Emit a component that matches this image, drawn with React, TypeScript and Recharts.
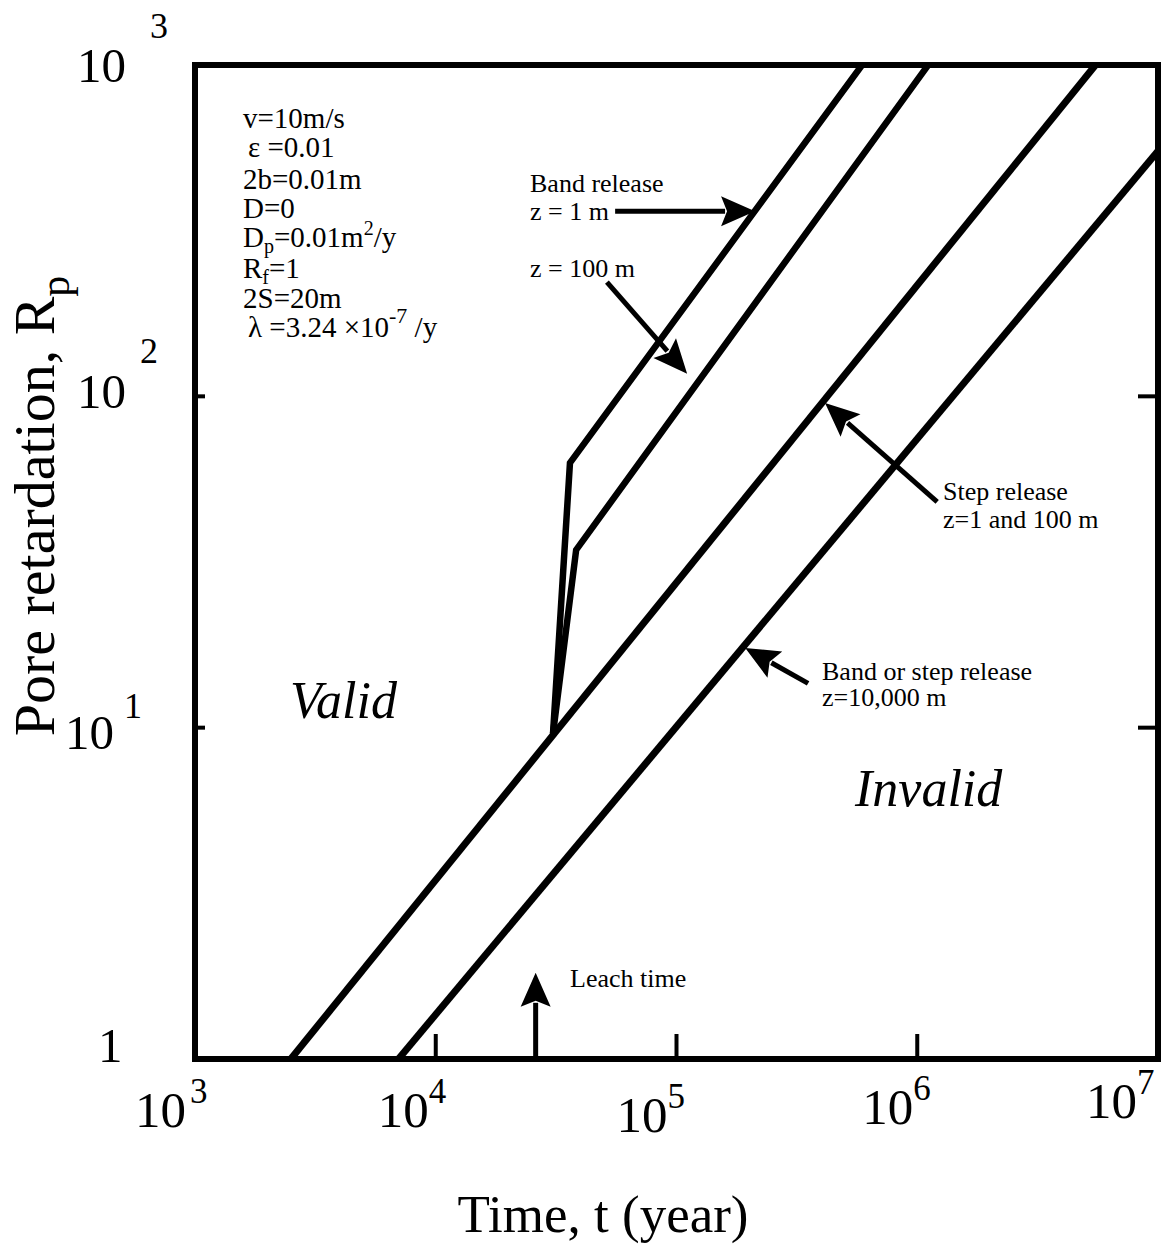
import React from "react";
import {
  LineChart,
  Line,
  XAxis,
  YAxis,
  ReferenceLine,
  ReferenceArea,
  Customized,
} from "recharts";

// 시간(년) - 공극 지연계수 경계선
const stepRelease = [
  { t: 2500, R: 1 },
  { t: 5.5e6, R: 1000 },
];
const farRelease = [
  { t: 7000, R: 1 },
  { t: 1e7, R: 550 },
];
const bandNear = [
  { t: 30700, R: 9.6 },
  { t: 36100, R: 63 },
  { t: 590000, R: 1000 },
];
const bandMid = [
  { t: 30700, R: 9.6 },
  { t: 38300, R: 34.4 },
  { t: 1.11e6, R: 1000 },
];

const xTicks = [1e3, 1e4, 1e5, 1e6, 1e7];
const yTicks = [1, 10, 100, 1000];
const innerXTicks = [1e4, 1e5, 1e6];
const innerYTicks = [10, 100];

// annotation arrows (tail -> head), in data units
const arrows = [
  { from: { t: 55600, R: 362 }, to: { t: 212000, R: 362 } },
  { from: { t: 51400, R: 221 }, to: { t: 110700, R: 117 } },
  { from: { t: 1.21e6, R: 48 }, to: { t: 414000, R: 95.5 } },
  { from: { t: 352000, R: 13.6 }, to: { t: 193000, R: 17.4 } },
  { from: { t: 26000, R: 1 }, to: { t: 26000, R: 1.82 } },
];

const FONT = "'Liberation Serif', 'DejaVu Serif', serif";

// label layout per tick (offsets only)
const xLabelPos: Record<number, { dx: number; dy: number; gap: number }> = {
  1000: { dx: -60, dy: 68, gap: 4 },
  10000: { dx: -58, dy: 68, gap: 0 },
  100000: { dx: -60, dy: 73, gap: 0 },
  1000000: { dx: -55, dy: 65, gap: 0 },
  10000000: { dx: -72, dy: 59, gap: 0 },
};
const yLabelPos: Record<number, { dx: number; dy: number; gap: number; sup: number }> = {
  1000: { dx: -118, dy: 17, gap: 24, sup: -44 },
  100: { dx: -118, dy: 12, gap: 14, sup: -45 },
  10: { dx: -130, dy: 21, gap: 10, sup: -31 },
  1: { dx: -97, dy: 3, gap: 0, sup: 0 },
};

const XTick = (props: any) => {
  const { x, y, payload } = props;
  const v = payload.value;
  const pos = xLabelPos[v] ?? { dx: -60, dy: 68, gap: 0 };
  const exp = Math.round(Math.log10(v));
  return (
    <g>
      {innerXTicks.includes(v) && (
        <line x1={x} y1={y} x2={x} y2={y - 25} stroke="#000" strokeWidth={4} />
      )}
      <text x={x + pos.dx} y={y + pos.dy} fontFamily={FONT} fontSize={51} fill="#000">
        <tspan>10</tspan>
        <tspan dx={pos.gap} dy={-24} fontSize={35}>
          {exp}
        </tspan>
      </text>
    </g>
  );
};

const YTick = (props: any) => {
  const { x, y, payload } = props;
  const v = payload.value;
  const pos = yLabelPos[v];
  const exp = Math.round(Math.log10(v));
  return (
    <g>
      {innerYTicks.includes(v) && (
        <line x1={x} y1={y} x2={x + 10} y2={y} stroke="#000" strokeWidth={4} />
      )}
      <text x={x + pos.dx} y={y + pos.dy} fontFamily={FONT} fontSize={49} fill="#000">
        <tspan>{v === 1 ? "1" : "10"}</tspan>
        {v !== 1 && (
          <tspan dx={pos.gap} dy={pos.sup} fontSize={36}>
            {exp}
          </tspan>
        )}
      </text>
    </g>
  );
};

const YTickRight = (props: any) => {
  const { x, y, payload } = props;
  if (!innerYTicks.includes(payload.value)) return <g />;
  return <line x1={x} y1={y} x2={x - 20} y2={y} stroke="#000" strokeWidth={4} />;
};

const Arrow = (props: any) => {
  const { x1, y1, x2, y2 } = props;
  const dx = x2 - x1;
  const dy = y2 - y1;
  const len = Math.hypot(dx, dy) || 1;
  const ux = dx / len;
  const uy = dy / len;
  const L = 34;
  const W = 15;
  const bx = x2 - ux * L;
  const by = y2 - uy * L;
  return (
    <g>
      <line x1={x1} y1={y1} x2={bx + ux * 4} y2={by + uy * 4} stroke="#000" strokeWidth={5} />
      <polygon
        points={`${x2},${y2} ${bx - uy * W},${by + ux * W} ${bx + ux * 6},${by + uy * 6} ${bx + uy * W},${by - ux * W}`}
        fill="#000"
      />
    </g>
  );
};

const Notes = () => {
  const p = { fontFamily: FONT, fill: "#000" };
  return (
    <g>
      <g {...p} fontSize={29}>
        <text x={243} y={128}>v=10m/s</text>
        <text x={248} y={157}>ε =0.01</text>
        <text x={243} y={189}>2b=0.01m</text>
        <text x={243} y={218}>D=0</text>
        <text x={243} y={247}>
          D<tspan dy={6} fontSize={20}>p</tspan>
          <tspan dy={-6}>=0.01m</tspan>
          <tspan dy={-12} fontSize={20}>2</tspan>
          <tspan dy={12}>/y</tspan>
        </text>
        <text x={243} y={278}>
          R<tspan dy={6} fontSize={20}>f</tspan>
          <tspan dy={-6}>=1</tspan>
        </text>
        <text x={243} y={308}>2S=20m</text>
        <text x={248} y={337}>
          λ =3.24 ×10<tspan dy={-14} fontSize={22}>-7</tspan>
          <tspan dy={14}>  /y</tspan>
        </text>
      </g>
      <g {...p} fontSize={26}>
        <text x={530} y={192}>Band release</text>
        <text x={530} y={220}>z = 1 m</text>
        <text x={530} y={277}>z = 100 m</text>
        <text x={943} y={500}>Step release</text>
        <text x={943} y={528}>z=1 and 100 m</text>
        <text x={822} y={680}>Band or step release</text>
        <text x={822} y={706}>z=10,000 m</text>
        <text x={570} y={987}>Leach time</text>
      </g>
      <g {...p} fontSize={52} fontStyle="italic">
        <text x={290} y={718}>Valid</text>
        <text x={855} y={806}>Invalid</text>
      </g>
      <text {...p} x={603} y={1232} fontSize={53} textAnchor="middle">
        Time, t (year)
      </text>
      <text
        {...p}
        fontSize={58}
        textAnchor="middle"
        transform="translate(54,506) rotate(-90)"
      >
        Pore retardation, R<tspan dy={15} fontSize={42}>p</tspan>
      </text>
    </g>
  );
};

export default function App() {
  return (
    <div
      style={{
        position: "absolute",
        left: 0,
        top: 0,
        width: 1171,
        height: 1249,
        background: "#fff",
      }}
    >
      <LineChart
        width={1171}
        height={1249}
        margin={{ top: 65, right: 0, bottom: 160, left: 135 }}
      >
        <XAxis
          dataKey="t"
          type="number"
          scale="log"
          domain={[1e3, 1e7]}
          ticks={xTicks}
          interval={0}
          allowDataOverflow
          axisLine={false}
          tickLine={false}
          tickSize={0}
          tickMargin={0}
          height={30}
          tick={<XTick />}
        />
        <YAxis
          type="number"
          scale="log"
          domain={[1, 1000]}
          ticks={yTicks}
          interval={0}
          allowDataOverflow
          axisLine={false}
          tickLine={false}
          tickSize={0}
          tickMargin={0}
          width={60}
          tick={<YTick />}
        />
        <YAxis
          yAxisId="right"
          orientation="right"
          type="number"
          scale="log"
          domain={[1, 1000]}
          ticks={yTicks}
          interval={0}
          allowDataOverflow
          axisLine={false}
          tickLine={false}
          tickSize={0}
          tickMargin={0}
          width={13}
          tick={<YTickRight />}
        />
        <Line data={stepRelease} dataKey="R" type="linear" stroke="#000" strokeWidth={7} dot={false} isAnimationActive={false} />
        <Line data={farRelease} dataKey="R" type="linear" stroke="#000" strokeWidth={7} dot={false} isAnimationActive={false} />
        <Line data={bandNear} dataKey="R" type="linear" stroke="#000" strokeWidth={6.5} dot={false} isAnimationActive={false} />
        <Line data={bandMid} dataKey="R" type="linear" stroke="#000" strokeWidth={6.5} dot={false} isAnimationActive={false} />
        {arrows.map((a, i) => (
          <ReferenceLine
            key={`arrow-${i}`}
            segment={[
              { x: a.from.t, y: a.from.R },
              { x: a.to.t, y: a.to.R },
            ]}
            shape={<Arrow />}
            ifOverflow="visible"
          />
        ))}
        <ReferenceArea
          x1={1e3}
          x2={1e7}
          y1={1}
          y2={1000}
          fill="none"
          stroke="#000"
          strokeWidth={6}
          ifOverflow="visible"
        />
        <Customized component={Notes} />
      </LineChart>
    </div>
  );
}
